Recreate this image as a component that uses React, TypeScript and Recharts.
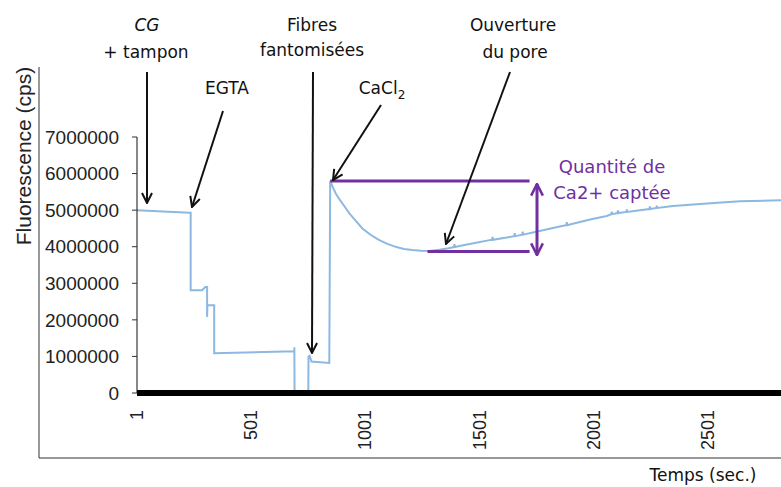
import { LineChart, Line, XAxis, YAxis, ReferenceLine } from "recharts"

// temps (sec.) and fluorescence (cps)
const temps = [
  1, 231, 236, 236, 286, 300, 308, 308, 309, 339, 339, 690, 690, 691, 751, 752, 757, 765, 843,
  847, 860, 872, 887, 910, 931, 960, 988, 1025, 1062, 1100, 1137, 1170, 1207, 1245, 1282, 1326, 1365,
  1389, 1391, 1393, 1413, 1480, 1545, 1556, 1558, 1560, 1620, 1653, 1655, 1657, 1688, 1690, 1692,
  1764, 1852, 1881, 1883, 1885, 1909, 1990, 2058, 2078, 2080, 2082, 2105, 2107, 2109, 2144, 2146,
  2148, 2203, 2245, 2247, 2249, 2275, 2277, 2279, 2348, 2497, 2641, 2821,
]
const fluo = [
  5000000, 4930000, 4930000, 2810000, 2810000, 2900000, 2900000, 2080000, 2400000, 2400000,
  1090000, 1140000, 1250000, 0, 0, 1000000, 1020000, 860000, 820000,
  5800000, 5600000, 5450000, 5300000, 5100000, 4910000, 4700000, 4500000, 4320000, 4180000,
  4070000, 3990000, 3940000, 3910000, 3890000, 3880000, 3920000, 3960000,
  3990000, 4070000, 3990000, 4020000, 4100000, 4180000, 4190000, 4270000, 4190000, 4250000,
  4290000, 4370000, 4290000, 4330000, 4410000, 4330000,
  4430000, 4550000, 4590000, 4670000, 4590000, 4630000, 4750000, 4840000, 4890000, 4960000,
  4890000, 4920000, 4990000, 4920000, 4950000, 5020000,
  4950000, 5000000, 5030000, 5100000, 5030000, 5060000, 5120000, 5060000, 5110000, 5180000,
  5240000, 5270000,
]
const xTicks = [1, 501, 1001, 1501, 2001, 2501]
const yTicks = [0, 1000000, 2000000, 3000000, 4000000, 5000000, 6000000, 7000000]

// quantité de Ca2+ captée : pic après CaCl2 et minimum
const pic = { x0: 847, x1: 1720, y: 5800000 }
const creux = { x0: 1273, x1: 1720, y: 3870000 }

const data = temps.map((t, i) => ({ t, fluo: fluo[i] }))

const PURPLE = "#7030A0"
const ANNOT = "'DejaVu Sans', sans-serif"
const AXIS = "'Liberation Sans', Arial, sans-serif"

function XTick({ x, y, payload }: any) {
  const ty = y + 9
  return (
    <text
      x={x}
      y={ty}
      transform={`rotate(-90 ${x} ${ty})`}
      textAnchor="end"
      dominantBaseline="central"
      fontSize={18}
      fontFamily={AXIS}
      fill="#222"
    >
      {payload.value}
    </text>
  )
}

function Annotations() {
  return (
    <svg
      width={781}
      height={487}
      style={{ position: "absolute", left: 0, top: 0, pointerEvents: "none" }}
    >
      <defs>
        <marker id="ah" viewBox="0 0 12 12" refX="11" refY="6" markerWidth="12" markerHeight="12"
          orient="auto" markerUnits="userSpaceOnUse">
          <path d="M1,1 L11,6 L1,11" fill="none" stroke="#111" strokeWidth="2" />
        </marker>
        <marker id="ahp" viewBox="0 0 12 12" refX="11" refY="6" markerWidth="14" markerHeight="14"
          orient="auto-start-reverse" markerUnits="userSpaceOnUse">
          <path d="M1,1 L11,6 L1,11" fill="none" stroke={PURPLE} strokeWidth="2.2" />
        </marker>
      </defs>

      {/* cadre */}
      <line x1={39} y1={67} x2={39} y2={458} stroke="#333" strokeWidth={1} />
      <line x1={39} y1={458} x2={781} y2={458} stroke="#333" strokeWidth={1} />

      <text x={23} y={156} transform="rotate(-90 23 156)" textAnchor="middle" dominantBaseline="central"
        fontSize={21} fontFamily={AXIS} fill="#222">
        Fluorescence (cps)
      </text>
      <text x={703} y={481} textAnchor="middle" fontSize={17} fontFamily={ANNOT} fill="#111">
        Temps (sec.)
      </text>

      <g fontSize={17} fontFamily={ANNOT} fill="#111" textAnchor="middle">
        <text x={147} y={31} fontStyle="italic">CG</text>
        <text x={146} y={58}>+ tampon</text>
        <text x={227} y={94}>EGTA</text>
        <text x={312} y={31}>Fibres</text>
        <text x={312} y={56}>fantomisées</text>
        <text x={382} y={94}>
          CaCl<tspan fontSize={12} dy={5}>2</tspan>
        </text>
        <text x={513} y={31}>Ouverture</text>
        <text x={515} y={58}>du pore</text>
      </g>

      <g stroke="#111" strokeWidth={2}>
        <line x1={147} y1={72} x2={147} y2={203} markerEnd="url(#ah)" />
        <line x1={223} y1={111} x2={192} y2={207} markerEnd="url(#ah)" />
        <line x1={313} y1={72} x2={312} y2={353} markerEnd="url(#ah)" />
        <line x1={381} y1={105} x2={333} y2={180} markerEnd="url(#ah)" />
        <line x1={510} y1={72} x2={446} y2={244} markerEnd="url(#ah)" />
      </g>

      <line x1={537} y1={184} x2={537} y2={255} stroke={PURPLE} strokeWidth={3}
        markerStart="url(#ahp)" markerEnd="url(#ahp)" />
      <g fontSize={18} fontFamily={ANNOT} fill={PURPLE} textAnchor="middle">
        <text x={612} y={173}>Quantité de</text>
        <text x={612} y={199}>Ca2+ captée</text>
      </g>
    </svg>
  )
}

export default function App() {
  return (
    <div style={{ position: "absolute", left: 0, top: 0, width: 781, height: 487, background: "#fff" }}>
      <LineChart width={781} height={487} data={data} margin={{ top: 137, right: 0, left: 0, bottom: 0 }}>
        <XAxis
          dataKey="t"
          type="number"
          domain={[1, 2821]}
          ticks={xTicks}
          interval={0}
          height={94}
          tickLine={false}
          axisLine={{ stroke: "#000", strokeWidth: 6 }}
          tick={<XTick />}
        />
        <YAxis
          type="number"
          domain={[0, 7000000]}
          ticks={yTicks}
          interval={0}
          width={137}
          tickSize={5}
          tickMargin={13}
          axisLine={{ stroke: "#111", strokeWidth: 1 }}
          tickLine={{ stroke: "#333" }}
          tick={{ fontSize: 19, fontFamily: AXIS, fill: "#222" }}
        />
        <Line
          dataKey="fluo"
          type="linear"
          stroke="#8DB8E0"
          strokeWidth={2}
          dot={false}
          isAnimationActive={false}
        />
        <ReferenceLine
          segment={[{ x: pic.x0, y: pic.y }, { x: pic.x1, y: pic.y }]}
          stroke={PURPLE}
          strokeWidth={3}
        />
        <ReferenceLine
          segment={[{ x: creux.x0, y: creux.y }, { x: creux.x1, y: creux.y }]}
          stroke={PURPLE}
          strokeWidth={3}
        />
      </LineChart>
      <Annotations />
    </div>
  )
}
